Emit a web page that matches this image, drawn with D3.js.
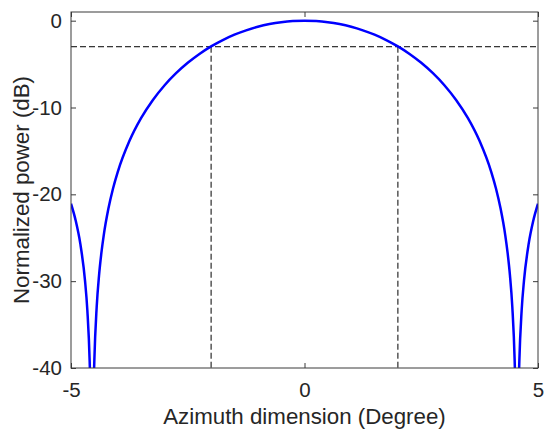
<!DOCTYPE html>
<html><head><meta charset="utf-8">
<script src="https://cdn.jsdelivr.net/npm/d3@7"></script>
<style>body{margin:0;background:#fff;} svg{display:block;font-family:"Liberation Sans",Arial,sans-serif;}</style>
</head><body>
<div id="chart"></div>
<script>
// Azimuth (degree) and normalized power (dB)
const azimuth = [-5.0,-4.9,-4.8,-4.7,-4.65,-4.6,-4.58,-4.55,-4.52,-4.5,-4.45,-4.4,-4.35,-4.3,-4.2,-4.1,-4.0,-3.75,-3.5,-3.25,-3.0,-2.75,-2.5,-2.25,-2.0,-1.75,-1.5,-1.25,-1.0,-0.75,-0.5,-0.25,0,
  0.25,0.5,0.75,1.0,1.25,1.5,1.75,2.0,2.25,2.5,2.75,3.0,3.25,3.5,3.75,4.0,4.1,4.2,4.3,4.35,4.4,4.45,4.5,4.52,4.55,4.58,4.6,4.65,4.7,4.8,4.9,5.0];
const power = [-21.07,-23.01,-25.71,-29.94,-33.35,-39.28,-43.67,-60,-43.56,-39.09,-32.97,-29.36,-26.78,-24.75,-21.67,-19.33,-17.44,-13.87,-11.23,-9.16,-7.46,-6.05,-4.85,-3.83,-2.96,-2.23,-1.61,-1.11,-0.70,-0.39,-0.17,-0.04,0,
  -0.04,-0.17,-0.39,-0.70,-1.11,-1.61,-2.23,-2.96,-3.83,-4.85,-6.05,-7.46,-9.16,-11.23,-13.87,-17.44,-19.33,-21.67,-24.75,-26.78,-29.36,-32.97,-39.09,-43.56,-60,-43.67,-39.28,-33.35,-29.94,-25.71,-23.01,-21.07];
const xTicks = [-5, 0, 5];
const yTicks = [0, -10, -20, -30, -40];
const halfPowerLevel = -3;
const halfPowerAz = [-2, 2];
const xLabel = "Azimuth dimension (Degree)";
const yLabel = "Normalized power (dB)";

const W = 550, H = 439;
const m = {left: 71, right: 12, top: 12, bottom: 71};
const svg = d3.select("#chart").append("svg").attr("width", W).attr("height", H);
const x = d3.scaleLinear().domain([-5, 5]).range([m.left, W - m.right]);
const y = d3.scaleLinear().domain([-40, 1]).range([H - m.bottom, m.top]);

svg.append("defs").append("clipPath").attr("id", "clip")
  .append("rect").attr("x", m.left).attr("y", m.top)
  .attr("width", W - m.left - m.right).attr("height", H - m.top - m.bottom);

const axisColor = "#3a3a3a";
const tickFont = "20.5px", labelFont = "22.3px";
const fmt = d => String(d);

function styleAxis(g, showText) {
  g.select(".domain").remove();
  g.selectAll(".tick line").attr("stroke", axisColor).attr("stroke-width", 1);
  g.selectAll(".tick text").attr("fill", "#262626").style("font-size", tickFont)
    .style("display", showText ? null : "none");
}

svg.append("g").attr("transform", `translate(0,${H - m.bottom})`)
  .call(d3.axisBottom(x).tickValues(xTicks).tickSize(-5).tickPadding(14).tickFormat(fmt))
  .call(g => styleAxis(g, true));
svg.append("g").attr("transform", `translate(0,${m.top})`)
  .call(d3.axisTop(x).tickValues(xTicks).tickSize(-5))
  .call(g => styleAxis(g, false));
svg.append("g").attr("transform", `translate(${m.left},0)`)
  .call(d3.axisLeft(y).tickValues(yTicks).tickSize(-5).tickPadding(9).tickFormat(fmt))
  .call(g => styleAxis(g, true));
svg.append("g").attr("transform", `translate(${W - m.right},0)`)
  .call(d3.axisRight(y).tickValues(yTicks).tickSize(-5))
  .call(g => styleAxis(g, false));

// dashed -3 dB guides
const dash = "6,3";
svg.append("line").attr("x1", x(-5)).attr("x2", x(5)).attr("y1", y(halfPowerLevel)).attr("y2", y(halfPowerLevel))
  .attr("stroke", "#000").attr("stroke-width", 1).attr("stroke-dasharray", dash);
svg.selectAll(".vguide").data(halfPowerAz).enter().append("line")
  .attr("x1", d => x(d)).attr("x2", d => x(d)).attr("y1", y(halfPowerLevel)).attr("y2", y(-40))
  .attr("stroke", "#000").attr("stroke-width", 1).attr("stroke-dasharray", dash);

const pts = azimuth.map((a, i) => [a, power[i]]);
svg.append("path").datum(pts).attr("clip-path", "url(#clip)")
  .attr("fill", "none").attr("stroke", "#0000ff").attr("stroke-width", 2.5)
  .attr("d", d3.line().x(d => x(d[0])).y(d => y(d[1])).curve(d3.curveMonotoneX));

// box
svg.append("rect").attr("x", m.left).attr("y", m.top)
  .attr("width", W - m.left - m.right).attr("height", H - m.top - m.bottom)
  .attr("fill", "none").attr("stroke", axisColor).attr("stroke-width", 1);

svg.append("text").attr("x", x(0)).attr("y", 424).attr("text-anchor", "middle")
  .style("font-size", labelFont).attr("fill", "#262626").text(xLabel);
svg.append("text").attr("transform", `translate(29,${(m.top + H - m.bottom) / 2}) rotate(-90)`)
  .attr("text-anchor", "middle").style("font-size", labelFont).attr("fill", "#262626").text(yLabel);
</script>
</body></html>
